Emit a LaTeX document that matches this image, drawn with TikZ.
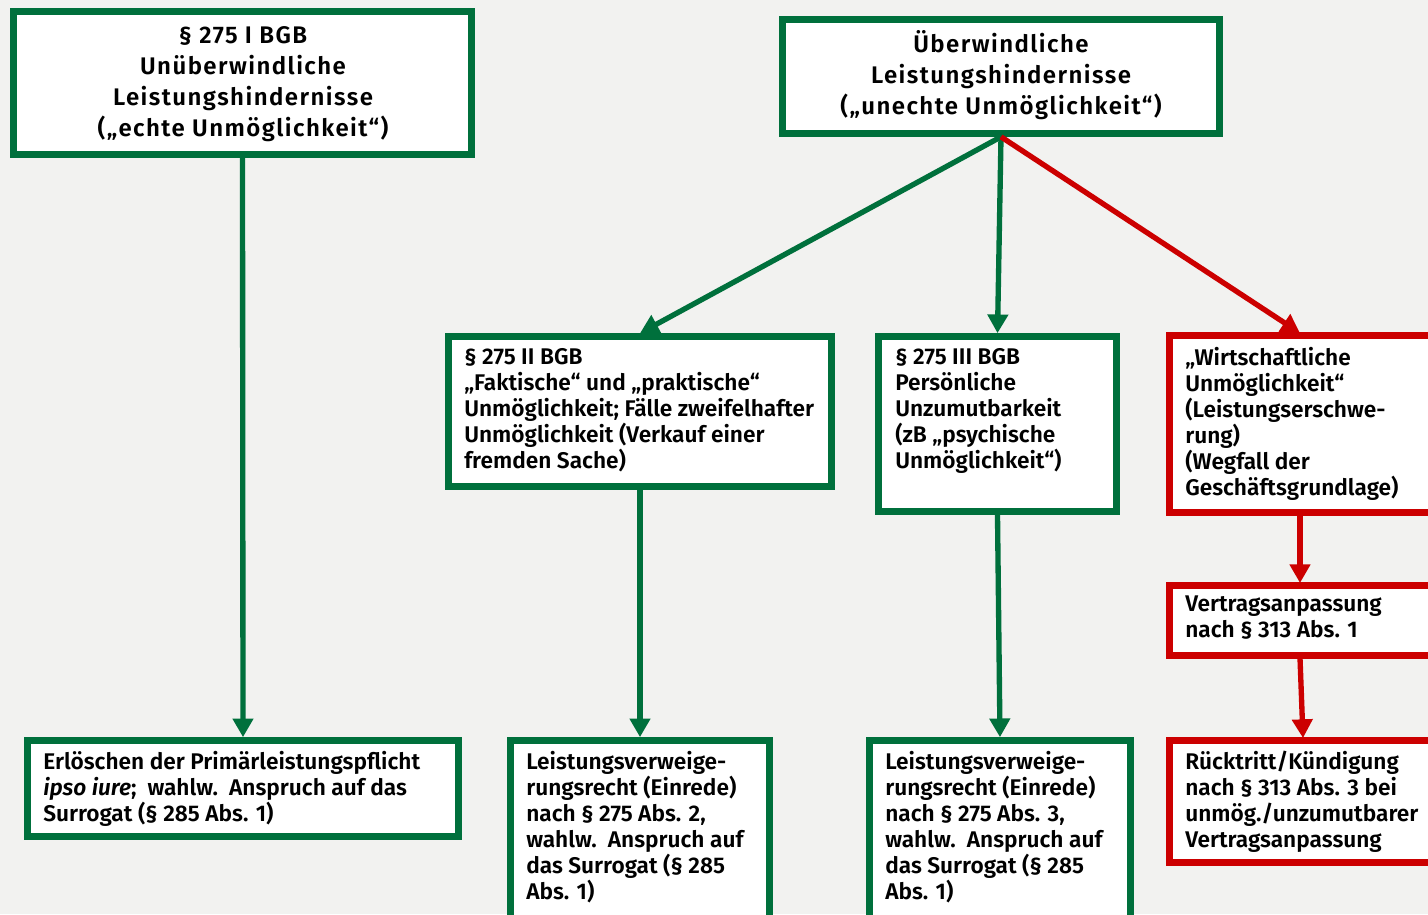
\documentclass[tikz,border=0pt]{standalone}
\usepackage{fontspec}
\setmainfont{Fira Sans}[BoldFont={Fira Sans SemiBold}, BoldItalicFont={Fira Sans SemiBold Italic}]
\newfontfamily\topfont{Fira Sans}[BoldFont={Fira Sans SemiBold}, LetterSpace=6]
\usetikzlibrary{arrows.meta,calc,fit}
\definecolor{bg}{HTML}{F2F2F0}
\definecolor{gr}{HTML}{00703C}
\definecolor{rd}{HTML}{CC0000}
\tikzset{
  gbox/.style={draw=gr, line width=5pt, fill=white, inner sep=0pt},
  rbox/.style={draw=rd, line width=5pt, fill=white, inner sep=0pt},
  ttop/.style={font=\topfont\fontsize{18}{23.25}\selectfont\bfseries, align=center, inner sep=0pt},
  tnorm/.style={font=\fontsize{17}{19.5}\selectfont\bfseries, align=left, inner sep=0pt, anchor=north west},
  garrow/.style={draw=gr, line width=4pt, -{Triangle[width=15pt,length=14pt]}},
  rarrow/.style={draw=rd, line width=4pt, -{Triangle[width=15pt,length=14pt]}}
}
\begin{document}
\begin{tikzpicture}[x=0.75pt,y=-0.75pt]
\useasboundingbox (0,0) rectangle (1428,914);
\fill[bg] (0,0) rectangle (1428,914);
\clip (0,0) rectangle (1428,914);
% boxes
\node[gbox, fit={(13.5,11.5) (471.5,154.5)}] (A) {};
\node[gbox, fit={(782.5,19.5) (1219.5,133.5)}] (B) {};
\node[gbox, fit={(448.5,336.5) (831.5,486.5)}] (C) {};
\node[gbox, fit={(878.5,336.5) (1116.5,511.5)}] (D) {};
\node[rbox, fit={(1169.5,335.5) (1480,512.5)}] (E) {};
\node[rbox, fit={(1169.5,585.5) (1480,655.5)}] (F) {};
\node[rbox, fit={(1169.5,740.5) (1480,862.5)}] (G) {};
\node[gbox, fit={(27.5,740.5) (458.5,836.5)}] (H) {};
\node[gbox, fit={(510.5,740.5) (769.5,960)}] (I) {};
\node[gbox, fit={(869.5,740.5) (1130.5,960)}] (J) {};
% texts
\node[ttop] (tA) at (243,84) {§ 275 I BGB\\Unüberwindliche\\Leistungshindernisse\\(„echte Unmöglichkeit“)};
\node[ttop] (tB) at (1001,75) {Überwindliche\\Leistungshindernisse\\(„unechte Unmöglichkeit“)};
\node[tnorm] (tC) at (464,348) {§ 275 II BGB\\„Faktische“ und „praktische“\\Unmöglichkeit; Fälle zweifelhafter\\Unmöglichkeit (Verkauf einer\\fremden Sache)};
\node[tnorm] (tD) at (895,348) {§ 275 III BGB\\Persönliche\\Unzumutbarkeit\\(zB „psychische\\Unmöglichkeit“)};
\node[tnorm] (tE) at (1185,347.5) {„Wirtschaftliche\\Unmöglichkeit“\\(Leistungserschwe-\\rung)\\(Wegfall der\\Geschäftsgrundlage)};
\node[tnorm] (tF) at (1185,595.5) {Vertragsanpassung\\nach § 313 Abs. 1};
\node[tnorm] (tG) at (1185,751) {Rücktritt/Kündigung\\nach § 313 Abs. 3 bei\\unmög./unzumutbarer\\Vertragsanpassung};
\node[tnorm] (tH) at (43,751) {Erlöschen der Primärleistungspflicht\\{\itshape ipso iure};\ \ wahlw.\ \ Anspruch auf das\\Surrogat (§ 285 Abs. 1)};
\node[tnorm] (tI) at (526,751) {Leistungsverweige-\\rungsrecht (Einrede)\\nach § 275 Abs. 2,\\wahlw.\ \ Anspruch auf\\das Surrogat (§ 285\\Abs. 1)};
\node[tnorm] (tJ) at (885,751) {Leistungsverweige-\\rungsrecht (Einrede)\\nach § 275 Abs. 3,\\wahlw.\ \ Anspruch auf\\das Surrogat (§ 285\\Abs. 1)};
% anchor coordinates
\coordinate (Etop) at (1300,333);
\coordinate (Ebot) at (1300,515);
\coordinate (Ftop) at (1300,583);
\coordinate (Fbot) at (1300,658);
\coordinate (Gtop) at (1303,738);
% connectors
\draw[garrow] (A.south) -- (H.north);
\draw[garrow] (B.south) -- (C.north);
\draw[garrow] (B.south) -- (D.north);
\draw[rarrow] (B.south) -- (Etop);
\draw[garrow] (C.south) -- (I.north);
\draw[garrow] (D.south) -- (J.north);
\draw[rarrow] (Ebot) -- (Ftop);
\draw[rarrow] (Fbot) -- (Gtop);
\end{tikzpicture}
\end{document}
